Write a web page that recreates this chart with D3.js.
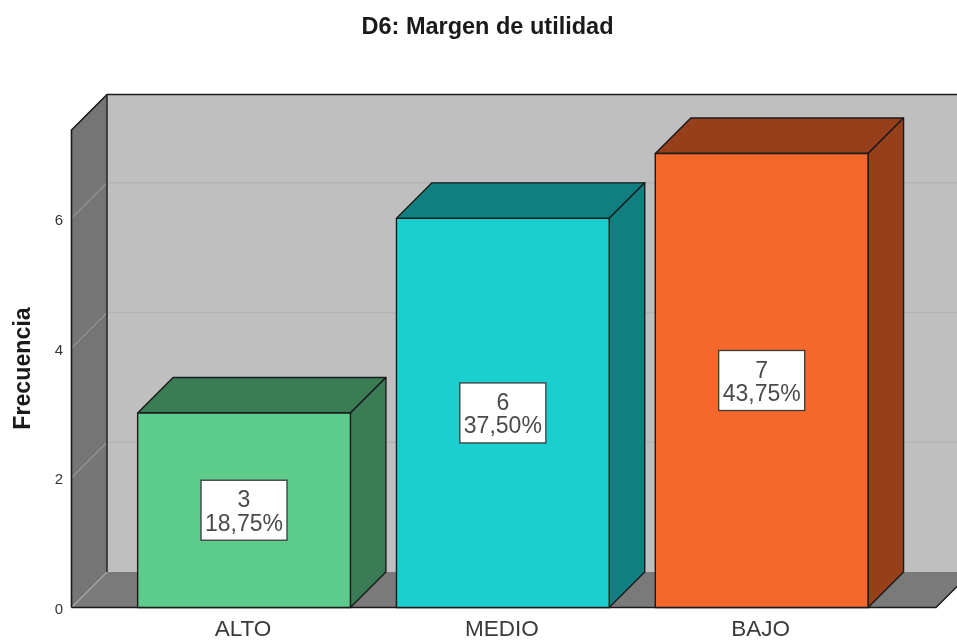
<!DOCTYPE html>
<html><head><meta charset="utf-8">
<script src="https://cdn.jsdelivr.net/npm/d3@7"></script>
<style>html,body{margin:0;padding:0;background:#fff;overflow:hidden}svg{display:block;filter:blur(0.35px)}text{font-family:"Liberation Sans",Arial,sans-serif}</style>
</head><body><svg id="c" width="957" height="641"></svg>
<script>
const categories = ["ALTO","MEDIO","BAJO"];
const counts = [3,6,7];
const percents = ["18,75%","37,50%","43,75%"];
const frontColors = ["#5CCB8C","#1CCFCF","#F4692B"];
const sideColors = ["#3A7D55","#107F7F","#963F1A"];
const yTicks = [0,2,4,6];
const titleText = "D6: Margen de utilidad";
const yTitle = "Frecuencia";

const svg = d3.select("#c");
const dx = 35.5, dy = -35.5;
const floorY = 607.5, wallL = 71.5, wallR = 936;
const y = d3.scaleLinear().domain([0,7]).range([floorY,153.5]);
const topFront = 130;
const x = d3.scaleBand().domain(categories).range([114.6,891.1]).paddingInner(0.178).paddingOuter(0.089);
const line = d3.line();
const ink = "#1a1a1a";
const poly = (pts,fill,stroke,sw)=>svg.append("path").attr("d",line(pts)+"Z").attr("fill",fill).attr("stroke",stroke||"none").attr("stroke-width",sw||0).attr("stroke-linejoin","round");

// back wall
poly([[wallL+dx,topFront+dy],[1000,topFront+dy],[1000,floorY+dy],[wallL+dx,floorY+dy]],"#BFBFBF");
// floor
poly([[wallL,floorY],[wallR,floorY],[wallR+dx,floorY+dy],[wallL+dx,floorY+dy]],"#7A7A7A");
// left wall
poly([[wallL,topFront],[wallL+dx,topFront+dy],[wallL+dx,floorY+dy],[wallL,floorY]],"#757575");
// grid
yTicks.forEach(t=>{
  const yy=y(t);
  if(t>0){
    svg.append("line").attr("x1",wallL+dx).attr("x2",957).attr("y1",yy+dy).attr("y2",yy+dy).attr("stroke","#B3B3B3").attr("stroke-width",1.5);
  }
  svg.append("line").attr("x1",wallL).attr("x2",wallL+dx).attr("y1",yy).attr("y2",yy+dy).attr("stroke",t>0?"#969696":"#A8A8A8").attr("stroke-width",1.2);
});
// wall outlines
svg.append("path").attr("d",line([[wallL,floorY],[wallL,topFront],[wallL+dx,topFront+dy],[957,topFront+dy]])).attr("fill","none").attr("stroke",ink).attr("stroke-width",1.6);
svg.append("line").attr("x1",wallL+dx).attr("x2",wallL+dx).attr("y1",topFront+dy).attr("y2",floorY+dy).attr("stroke",ink).attr("stroke-width",1.4);
svg.append("path").attr("d",line([[wallL,floorY],[wallR,floorY],[wallR+dx,floorY+dy]])).attr("fill","none").attr("stroke",ink).attr("stroke-width",1.4);

// bars
categories.forEach((c,i)=>{
  const x0=x(c), x1=x0+x.bandwidth(), yt=y(counts[i]), yb=y(0);
  poly([[x0,yt],[x0+dx,yt+dy],[x1+dx,yt+dy],[x1,yt]],sideColors[i],ink,1.4);
  poly([[x1,yt],[x1+dx,yt+dy],[x1+dx,yb+dy],[x1,yb]],sideColors[i],ink,1.4);
  poly([[x0,yt],[x1,yt],[x1,yb],[x0,yb]],frontColors[i],ink,1.4);
  const cx=(x0+x1)/2, cy=(yt+yb)/2;
  svg.append("rect").attr("x",cx-43).attr("y",cy-30).attr("width",86).attr("height",60).attr("fill","#fff").attr("stroke","#3a3a3a").attr("stroke-width",1.3);
  svg.append("text").attr("x",cx).attr("y",cy-3).attr("text-anchor","middle").attr("font-size",23).attr("fill","#4a4a4a").text(counts[i]);
  svg.append("text").attr("x",cx).attr("y",cy+20.5).attr("text-anchor","middle").attr("font-size",23).attr("fill","#4a4a4a").text(percents[i]);
  svg.append("text").attr("x",cx-1).attr("y",636).attr("text-anchor","middle").attr("font-size",22.5).attr("fill","#3a3a3a").text(c);
});
// ticks
yTicks.forEach(t=>{
  svg.append("text").attr("x",63).attr("y",y(t)+6.5).attr("text-anchor","end").attr("font-size",15).attr("fill","#333").text(t);
});
svg.append("text").attr("x",487.5).attr("y",34).attr("text-anchor","middle").attr("font-size",23.5).attr("font-weight","bold").attr("fill","#1a1a1a").text(titleText);
svg.append("text").attr("transform","translate(30,368.5) rotate(-90)").attr("text-anchor","middle").attr("font-size",23.2).attr("font-weight","bold").attr("fill","#1a1a1a").text(yTitle);
</script></body></html>
